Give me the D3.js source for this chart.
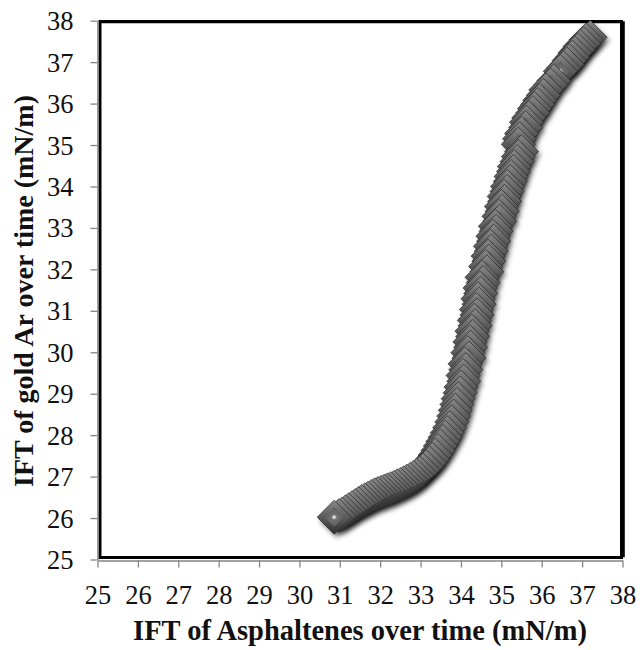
<!DOCTYPE html>
<html><head><meta charset="utf-8">
<script src="https://cdn.jsdelivr.net/npm/d3@7"></script>
<style>body{margin:0;background:#fff}svg{display:block}</style>
</head><body><svg id="c" width="640" height="650"></svg>
<script>
// IFT of Asphaltenes (x) and IFT of gold Ar (y), listed in drawing order
const asphaltenesIFT = [
 37.20,37.10,37.04,36.95,36.90,36.82,36.76,36.68,36.63,36.54,36.46,
 36.30,36.22,36.10,36.04,35.95,35.90,35.82,35.78,35.68,35.62,35.60,35.50,35.45,35.42,
 35.50,35.42,35.39,35.32,35.30,35.24,35.22,35.15,35.14,35.07,
 35.08,35.00,35.02,34.94,34.96,34.85,34.87,34.79,34.81,34.73,
 34.75,34.67,34.69,34.61,34.64,34.52,34.55,34.47,34.49,34.42,
 34.45,34.38,34.40,34.33,34.35,34.27,34.29,34.22,34.24,34.17,
 34.20,34.10,34.12,34.05,34.07,34.00,33.98,33.93,33.90,33.86,
 33.82,33.77,33.72,33.66,33.61,33.55,33.49,33.43,33.36,33.29,
 33.22,33.14,33.06,32.98,32.90,32.82,32.74,32.66,32.58,32.50,
 32.42,32.34,32.26,32.18,32.10,32.02,31.94,31.86,31.78,31.70,
 31.62,31.54,31.46,31.38,31.30,31.22,31.14,31.06,30.98,30.86
];
const goldArIFT = [
 37.60,37.54,37.45,37.38,37.30,37.22,37.12,37.04,36.95,36.86,36.78,
 36.55,36.45,36.33,36.20,36.08,35.98,35.88,35.78,35.66,35.55,35.42,35.28,35.15,35.02,
 34.84,34.72,34.60,34.48,34.36,34.24,34.12,34.00,33.88,33.76,
 33.64,33.52,33.40,33.28,33.16,33.04,32.92,32.80,32.68,32.56,
 32.44,32.32,32.20,32.07,31.94,31.81,31.68,31.55,31.42,31.29,
 31.16,31.03,30.90,30.77,30.64,30.51,30.38,30.25,30.12,29.99,
 29.86,29.72,29.58,29.44,29.30,29.16,29.02,28.88,28.74,28.60,
 28.46,28.32,28.18,28.06,27.95,27.85,27.74,27.63,27.52,27.42,
 27.33,27.24,27.16,27.09,27.03,26.98,26.93,26.89,26.85,26.81,
 26.78,26.74,26.71,26.68,26.65,26.62,26.59,26.56,26.52,26.48,
 26.44,26.40,26.35,26.30,26.25,26.20,26.15,26.10,26.06,26.02
];
const xTicks = [25,26,27,28,29,30,31,32,33,34,35,36,37,38];
const yTicks = [25,26,27,28,29,30,31,32,33,34,35,36,37,38];
const xTitle = "IFT of Asphaltenes over time (mN/m)";
const yTitle = "IFT of gold Ar over time (mN/m)";

const points = asphaltenesIFT.map((v,i)=>({x:v, y:goldArIFT[i]}));

const svg = d3.select("#c");
const x = d3.scaleLinear().domain([25,38]).range([97.5,622.5]);
const y = d3.scaleLinear().domain([25,38]).range([559.5,20.7]);

const defs = svg.append("defs");
const gO = defs.append("linearGradient").attr("id","gOuter").attr("x1",0).attr("y1",0).attr("x2",0).attr("y2",1);
gO.append("stop").attr("offset","0%").attr("stop-color","#8a8a8a");
gO.append("stop").attr("offset","48%").attr("stop-color","#5c5c5c");
gO.append("stop").attr("offset","100%").attr("stop-color","#303030");
const gI = defs.append("radialGradient").attr("id","gInner").attr("cx","50%").attr("cy","50%").attr("r","60%");
gI.append("stop").attr("offset","0%").attr("stop-color","#7a7a7a");
gI.append("stop").attr("offset","100%").attr("stop-color","#545454");
const fb = defs.append("filter").attr("id","blur").attr("x","-50%").attr("y","-50%").attr("width","200%").attr("height","200%");
fb.append("feGaussianBlur").attr("stdDeviation",2.4);

// plot frame
const fr = svg.append("g");
fr.append("rect").attr("x",x(25)+2.5).attr("y",y(38)+0.8).attr("width",x(38)-x(25)-3.5).attr("height",y(25)-y(38)-2.8)
  .attr("fill","#fff").attr("stroke","#000").attr("stroke-width",3);
fr.append("path").attr("d",`M${x(25)+2.5},${y(38)+2.3}H${x(38)+0.5}V${y(25)-1.5}`)
  .attr("fill","none").attr("stroke","#000").attr("stroke-width",2).attr("transform","translate(0.8,-0.8)");

// axes
const ax = svg.append("g").attr("transform",`translate(0,${y(25)+1})`)
  .call(d3.axisBottom(x).tickValues(xTicks).tickSize(7).tickSizeOuter(0).tickFormat(d3.format("d")));
const ay = svg.append("g").attr("transform",`translate(${x(25)},0)`)
  .call(d3.axisLeft(y).tickValues(yTicks).tickSize(7).tickSizeOuter(0).tickFormat(d3.format("d")));
[ax,ay].forEach(a=>{
  a.select(".domain").attr("stroke","#858585").attr("stroke-width",1.6);
  a.selectAll(".tick line").attr("stroke","#858585").attr("stroke-width",1.3);
  a.selectAll(".tick text").attr("font-family","'Liberation Serif',serif").attr("font-size",26.5).attr("fill","#111");
});
ax.selectAll(".tick text").attr("y",43).attr("dy","0");
ay.selectAll(".tick text").attr("x",-24).attr("dy","0.34em");

// markers
const R = 17;
const dPath = r => `M0,${-r}L${r},0L0,${r}L${-r},0Z`;
const sh = svg.append("g").attr("filter","url(#blur)");
sh.selectAll("path").data(points).join("path")
  .attr("d",dPath(R)).attr("transform",d=>`translate(${x(d.x)+2.5},${y(d.y)+3.5})`)
  .attr("fill","#000").attr("opacity",0.5);
const mk = svg.append("g").selectAll("g").data(points).join("g")
  .attr("transform",d=>`translate(${x(d.x)},${y(d.y)})`);
mk.append("path").attr("d",dPath(R)).attr("fill","url(#gOuter)").attr("stroke","#2a2a2a").attr("stroke-width",0.7);
mk.append("path").attr("d",dPath(R*0.58)).attr("fill","url(#gInner)");
mk.append("path").attr("d",dPath(2.4)).attr("fill","#d8d8d8");

// titles
function fitText(t, target, base){
  t.attr("font-size",base);
  const w = t.node().getComputedTextLength();
  t.attr("font-size", base*target/w);
}
const tx = svg.append("text").text(xTitle).attr("x",360).attr("y",640)
  .attr("text-anchor","middle").attr("font-family","'Liberation Serif',serif").attr("font-weight","bold").attr("fill","#111");
fitText(tx,454,24);
const ty = svg.append("text").text(yTitle).attr("transform","translate(33,291) rotate(-90)")
  .attr("text-anchor","middle").attr("font-family","'Liberation Serif',serif").attr("font-weight","bold").attr("fill","#111");
fitText(ty,392,24);
</script></body></html>
